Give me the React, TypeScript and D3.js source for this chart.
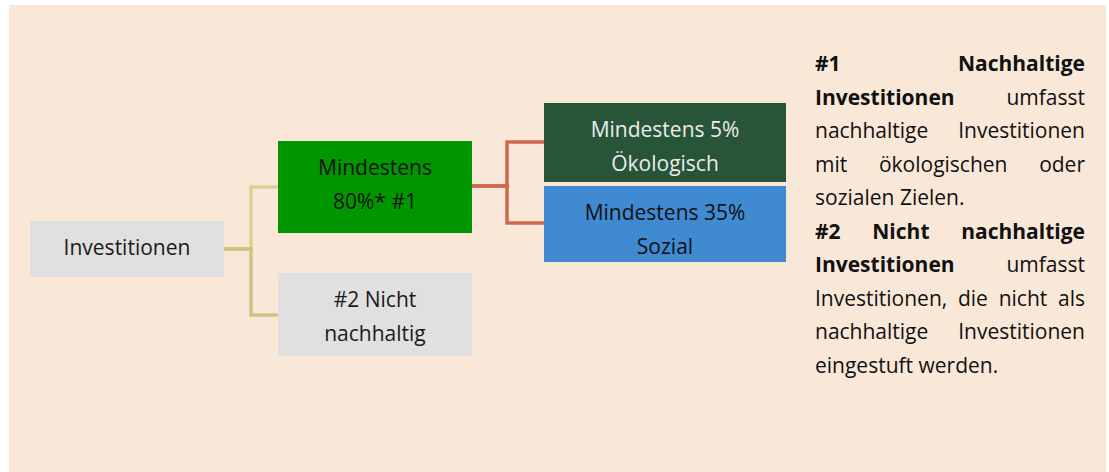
import React, { useEffect, useRef } from "react";
import * as d3 from "d3";

// nodes of the breakdown tree
const nodeIds = ["inv", "n1", "n2", "eco", "soz"];
const nodeLines = [
  ["Investitionen"],
  ["Mindestens", "80%* #1"],
  ["#2 Nicht", "nachhaltig"],
  ["Mindestens 5%", "Ökologisch"],
  ["Mindestens 35%", "Sozial"],
];
const nodeFills = ["#e0e0e0", "#009600", "#e0e0e0", "#285438", "#3f8ad0"];
const nodeTextColors = ["#1a1a1a", "#111111", "#1a1a1a", "#ececec", "#111111"];

// links parent -> child
const links = [
  ["inv", "n1"],
  ["inv", "n2"],
  ["n1", "eco"],
  ["n1", "soz"],
];

// explanatory note, already broken into lines
const noteLines = [
  ["#1", "Nachhaltige"],
  ["Investitionen", "umfasst"],
  ["nachhaltige", "Investitionen"],
  ["mit", "ökologischen", "oder"],
  ["sozialen", "Zielen."],
  ["#2", "Nicht", "nachhaltige"],
  ["Investitionen", "umfasst"],
  ["Investitionen,", "die", "nicht", "als"],
  ["nachhaltige", "Investitionen"],
  ["eingestuft", "werden."],
];
const noteBoldCount = [2, 1, 0, 0, 0, 3, 1, 0, 0, 0];
const noteJustify = [true, true, true, true, false, true, true, true, true, false];

// layout
const W = 1109;
const H = 472;
const FONT = "'Open Sans', 'Noto Sans', sans-serif";
const FS = 21;
const LINE_H = 33.5;
const layout: Record<string, { x: number; y: number; w: number; h: number }> = {
  inv: { x: 30, y: 221, w: 194, h: 56 },
  n1: { x: 278, y: 141, w: 194, h: 92 },
  n2: { x: 278, y: 273, w: 194, h: 83 },
  eco: { x: 544, y: 103, w: 242, h: 79 },
  soz: { x: 544, y: 186, w: 242, h: 76 },
};
const linkColors: Record<string, string> = {
  "inv-n1": "#dbd096",
  "inv-n2": "#cfc383",
  "n1-eco": "#cd6a4e",
  "n1-soz": "#cd6a4e",
};
const NOTE_X0 = 815;
const NOTE_X1 = 1085;
const NOTE_Y0 = 71;

export default function App() {
  const ref = useRef<SVGSVGElement>(null);

  useEffect(() => {
    const svg = d3.select(ref.current);
    svg.selectAll("*").remove();

    svg
      .append("rect")
      .attr("x", 9)
      .attr("y", 5)
      .attr("width", 1097)
      .attr("height", H - 5)
      .attr("fill", "#f9e8d8");

    // connectors (elbow shaped)
    const elbowX = (p: string) => layout[p].x + layout[p].w + (p === "inv" ? 27 : 35);
    svg
      .selectAll(".link")
      .data(links)
      .join("path")
      .attr("class", "link")
      .attr("fill", "none")
      .attr("stroke-width", 3.5)
      .attr("stroke", (d) => linkColors[d[0] + "-" + d[1]])
      .attr("d", (d) => {
        const p = layout[d[0]];
        const c = layout[d[1]];
        const px = p.x + p.w - 2;
        const py = d[0] === "inv" ? p.y + p.h / 2 : p.y + 45;
        const ex = elbowX(d[0]);
        const cy = d[0] === "inv" ? (d[1] === "n1" ? 187 : 315) : d[1] === "eco" ? c.y + 39 : c.y + 37;
        return `M${px},${py}H${ex}V${cy}H${c.x}`;
      });

    // boxes
    const nodes = svg
      .selectAll(".node")
      .data(nodeIds)
      .join("g")
      .attr("class", "node");
    nodes
      .append("rect")
      .attr("x", (d) => layout[d].x)
      .attr("y", (d) => layout[d].y)
      .attr("width", (d) => layout[d].w)
      .attr("height", (d) => layout[d].h)
      .attr("fill", (d, i) => nodeFills[i]);
    nodes.each(function (d, i) {
      const g = d3.select(this);
      nodeLines[i].forEach((line, j) => {
        g.append("text")
          .attr("x", layout[d].x + layout[d].w / 2)
          .attr("y", layout[d].y + 34 + j * LINE_H)
          .attr("text-anchor", "middle")
          .attr("font-family", FONT)
          .attr("font-size", FS)
          .attr("fill", nodeTextColors[i])
          .text(line);
      });
    });

    // justified note text
    const note = svg.append("g");
    const space = (() => {
      const t = note.append("text").attr("font-family", FONT).attr("font-size", FS).text("a a");
      const t2 = note.append("text").attr("font-family", FONT).attr("font-size", FS).text("aa");
      const s = (t.node() as SVGTextElement).getComputedTextLength() - (t2.node() as SVGTextElement).getComputedTextLength();
      t.remove();
      t2.remove();
      return s;
    })();
    noteLines.forEach((words, li) => {
      const y = NOTE_Y0 + li * LINE_H;
      const els = words.map((w, wi) =>
        note
          .append("text")
          .attr("y", y)
          .attr("font-family", FONT)
          .attr("font-size", FS)
          .attr("font-weight", wi < noteBoldCount[li] ? 700 : 400)
          .attr("fill", "#111")
          .text(w)
      );
      const widths = els.map((e) => (e.node() as SVGTextElement).getComputedTextLength());
      const total = d3.sum(widths);
      const gap = noteJustify[li] && words.length > 1 ? (NOTE_X1 - NOTE_X0 - total) / (words.length - 1) : space;
      let x = NOTE_X0;
      els.forEach((e, k) => {
        e.attr("x", x);
        x += widths[k] + gap;
      });
    });
  }, []);

  return (
    <svg
      ref={ref}
      width={W}
      height={H}
      style={{ position: "absolute", left: 0, top: 0, display: "block" }}
    />
  );
}
